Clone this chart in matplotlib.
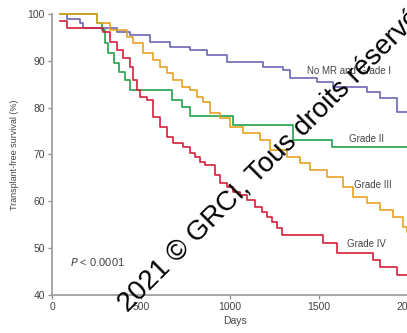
import matplotlib
matplotlib.use("Agg")
import matplotlib.pyplot as plt

plt.rcParams['font.family'] = ['Liberation Sans', 'DejaVu Sans']

# Data (days, survival %)
blue_days = [45, 84, 157, 174, 365, 438, 551, 663, 775, 871, 983, 1185, 1298, 1337, 1489, 1579, 1770, 1843, 1938, 2050]
blue_surv = [100, 99, 98, 97, 96.2, 95.5, 94, 93, 92.3, 91.2, 89.8, 88.7, 88, 86.3, 85.5, 84.4, 83.3, 82, 79, 79]

green_days = [45, 250, 280, 295, 315, 350, 375, 410, 438, 674, 730, 775, 1017, 1354, 1573, 2050]
green_surv = [100, 98, 96.6, 93.8, 91.6, 89.5, 87.6, 85.9, 83.8, 81.6, 80.1, 78.2, 76.3, 73.1, 71.6, 71.6]

orange_days = [45, 253, 326, 421, 455, 511, 567, 607, 646, 680, 730, 775, 815, 848, 888, 944, 1000,
               1073, 1169, 1225, 1320, 1393, 1449, 1545, 1635, 1691, 1770, 1843, 1916, 1972, 1995, 2050]
orange_surv = [100, 98, 96.6, 95, 93.8, 91.6, 90.2, 88.7, 87.4, 85.9, 84.4, 83.8, 82.3, 81.2, 78.9, 77.8, 75.9,
               74.6, 73.1, 71, 69.5, 68.2, 66.7, 65.2, 63, 60.9, 59.6, 58.1, 56.7, 54.5, 53.4, 53.4]

red_days = [45, 84, 287, 326, 365, 399, 438, 455, 478, 495, 534, 567, 607, 646, 680, 736, 775, 803, 831, 860,
            916, 944, 983, 1017, 1056, 1096, 1140, 1180, 1208, 1236, 1264, 1292, 1522, 1601, 1803, 1843, 1938, 2050]
red_surv = [98.5, 97, 96.2, 94, 92.3, 90.6, 88.7, 85.9, 83.8, 82.3, 81.6, 78, 75.9, 73.7, 72.4, 71.6, 70.3, 69.5,
            68.4, 67.8, 65.6, 63.9, 63.1, 62, 61.3, 60.3, 58.8, 57.7, 56.7, 55.6, 54.3, 52.8, 51.2, 49, 47.5, 46,
            44.3, 44.3]

labels = ["No MR and Grade I", "Grade II", "Grade III", "Grade IV"]
x_ticks = [0, 500, 1000, 1500, 2000]
y_ticks = [40, 50, 60, 70, 80, 90, 100]

fig = plt.figure(figsize=(4.07, 3.33), dpi=100)
ax = fig.add_axes([0.1278, 0.1141, 1.0246 - 0.1278, 0.958 - 0.1141])

series = [
    (blue_days, blue_surv, '#6b66b5'),
    (green_days, green_surv, '#22a24a'),
    (orange_days, orange_surv, '#e5a222'),
    (red_days, red_surv, '#d61f3c'),
]
for d, s, c in series:
    ax.plot(d, s, drawstyle='steps-post', color=c, lw=1.2, clip_on=False)

ax.set_xlim(0, 2050)
ax.set_ylim(40, 100)
ax.set_xticks(x_ticks)
ax.set_yticks(y_ticks)
for sp in ['top', 'right']:
    ax.spines[sp].set_visible(False)
for sp in ['left', 'bottom']:
    ax.spines[sp].set_color('#a0a0a0')
    ax.spines[sp].set_linewidth(1.3)
ax.tick_params(axis='both', direction='out', length=3, width=1, color='#909090',
               labelsize=7.5, labelcolor='#444444', pad=2)
ax.set_xlabel("Days", fontsize=7.5, color='#444444', labelpad=3)
ax.set_ylabel("Transplant-free survival (%)", fontsize=6.5, color='#444444', labelpad=6)

tc = '#444444'
ax.text(1433, 87.8, labels[0], fontsize=7, color=tc, va='center', ha='left')
ax.text(1669, 73.3, labels[1], fontsize=7, color=tc, va='center', ha='left')
ax.text(1697, 63.5, labels[2], fontsize=7, color=tc, va='center', ha='left')
ax.text(1657, 50.9, labels[3], fontsize=7, color=tc, va='center', ha='left')
ax.text(101, 47, r"$P$" + " < 0.0001", fontsize=8, color=tc, va='center', ha='left')

# watermark
fig.text(128 / 407, 1 - 313 / 333, "2021 © GRCI, Tous droits réservés", fontsize=20, color='black',
         rotation=45, ha='left', va='baseline', rotation_mode='anchor')

fig.savefig("out.png", dpi=100)
